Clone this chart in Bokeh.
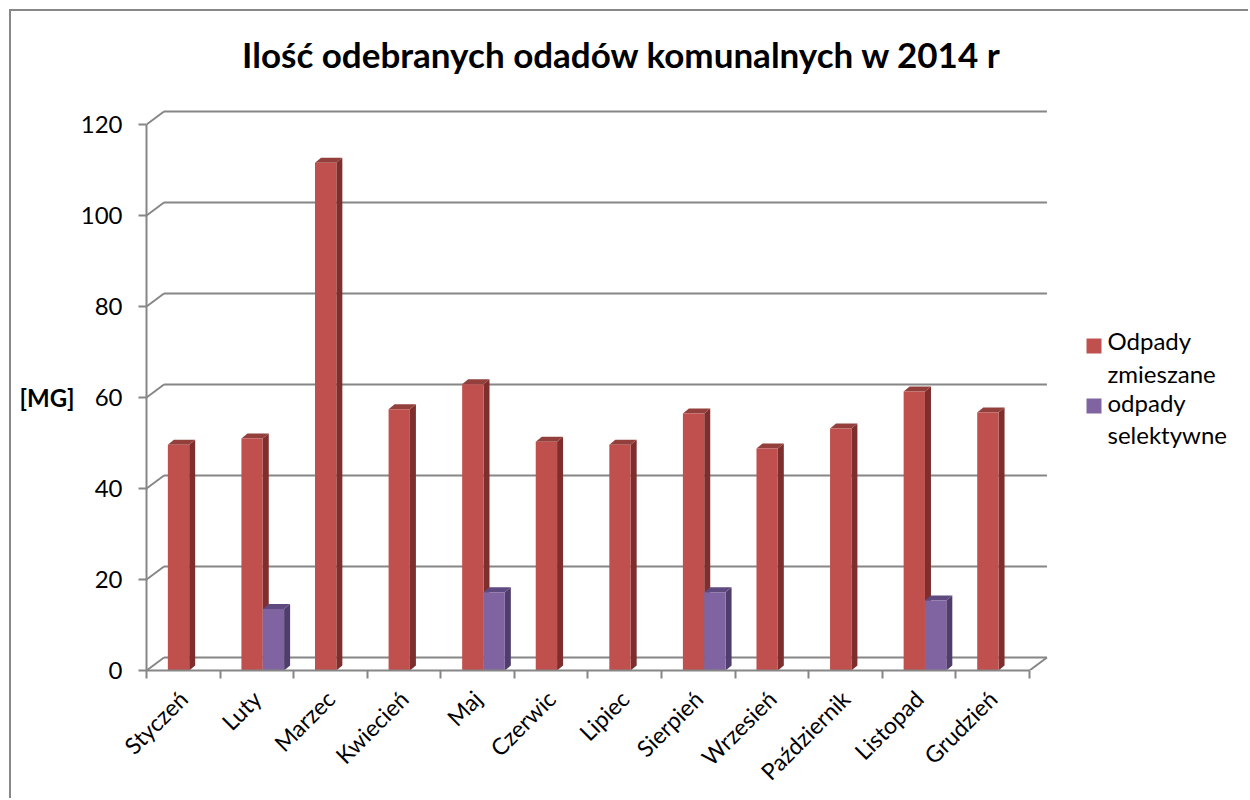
import math
from bokeh.plotting import figure
from bokeh.models import Range1d, FixedTicker, Label, ColumnDataSource, LinearAxis
from bokeh.core.properties import value
from bokeh.embed import file_html
from bokeh.resources import INLINE

# ---------------- data ----------------
months = ["Styczeń", "Luty", "Marzec", "Kwiecień", "Maj", "Czerwic", "Lipiec",
          "Sierpień", "Wrzesień", "Październik", "Listopad", "Grudzień"]
mixed = [49.6, 51.0, 111.6, 57.4, 62.9, 50.3, 49.6, 56.5, 48.8, 53.2, 61.3, 56.7]
selective = [0, 13.5, 0, 0, 17.2, 0, 0, 17.2, 0, 0, 15.4, 0]
series_names = ["Odpady zmieszane", "odpady selektywne"]
y_ticks = [0, 20, 40, 60, 80, 100, 120]
title_text = "Ilość odebranych odadów komunalnych w 2014 r"
y_label = "[MG]"

# ---------------- layout constants ----------------
W, H = 1239, 789           # canvas (page offset 11px by border)
FRAME_L = 135              # canvas px of front y axis
FRAME_B = 659              # canvas px of floor front edge
CAT_PX = 73.58             # px per category
VAL_PX = 4.55              # px per unit
X0 = -0.5
X_END = X0 + (W - FRAME_L) / CAT_PX
Y_END = FRAME_B / VAL_PX

def cx(px):  # canvas px -> data x
    return X0 + (px - FRAME_L) / CAT_PX

def cy(py):  # canvas px -> data y
    return (FRAME_B - py) / VAL_PX

DX = 17.5 / CAT_PX   # wall depth
DY = 13.0 / VAL_PX
BDX = 6.0 / CAT_PX   # bar depth
BDY = 5.0 / VAL_PX

GRID = "#868686"
RED, RED_SIDE, RED_TOP = "#C0504D", "#7E2F2D", "#93403D"
PUR, PUR_SIDE, PUR_TOP = "#8064A2", "#4F3D6B", "#5F4A80"
FONT = "Lato"
FS = "24px"

p = figure(width=W, height=H, output_backend="svg", toolbar_location=None,
           x_range=Range1d(X0, X_END), y_range=Range1d(0, Y_END),
           min_border_left=FRAME_L, min_border_right=0, min_border_top=0,
           min_border_bottom=H - FRAME_B, title=None)
p.styles = {"margin-left": "9px", "margin-top": "9px",
            "border-left": "2px solid #888888", "border-top": "2px solid #888888"}
p.outline_line_color = None
p.background_fill_color = "white"
p.border_fill_color = "white"
p.xgrid.visible = False
p.ygrid.visible = False

# ---------------- walls / gridlines ----------------
n = len(months)
left_end = X0
right_end = X0 + n
gx0, gy0, gx1, gy1 = [], [], [], []
for v in y_ticks:
    gx0.append(left_end); gy0.append(v); gx1.append(left_end + DX); gy1.append(v + DY)
    gx0.append(left_end + DX); gy0.append(v + DY); gx1.append(right_end + DX); gy1.append(v + DY)
gx0.append(right_end); gy0.append(0); gx1.append(right_end + DX); gy1.append(DY)
p.segment(gx0, gy0, gx1, gy1, line_color=GRID, line_width=2)

# ---------------- bars ----------------
def draw_bars(offset_l, offset_r, vals, front, side, top):
    xs_l = [i + offset_l for i in range(n) if vals[i] > 0]
    xs_r = [i + offset_r for i in range(n) if vals[i] > 0]
    vs = [vals[i] for i in range(n) if vals[i] > 0]
    side_xs = [[r, r + BDX, r + BDX, r] for r in xs_r]
    side_ys = [[0, BDY, v + BDY, v] for v in vs]
    top_xs = [[l, r, r + BDX, l + BDX] for l, r in zip(xs_l, xs_r)]
    top_ys = [[v, v, v + BDY, v + BDY] for v in vs]
    p.patches(side_xs, side_ys, fill_color=side, line_color=None)
    p.patches(top_xs, top_ys, fill_color=top, line_color=None)
    p.quad(left=xs_l, right=xs_r, bottom=0, top=vs, fill_color=front, line_color=None)

draw_bars(-0.21, 0.08, mixed, RED, RED_SIDE, RED_TOP)
draw_bars(0.08, 0.37, selective, PUR, PUR_SIDE, PUR_TOP)

# ---------------- axes ----------------
xa = p.xaxis[0]
xa.ticker = FixedTicker(ticks=list(range(n)), minor_ticks=[X0 + k for k in range(n + 1)])
xa.major_label_overrides = {i: m for i, m in enumerate(months)}
xa.bounds = (X0, X0 + n)
xa.axis_line_color = GRID
xa.axis_line_width = 2
xa.major_tick_out = 0
xa.major_tick_in = 0
xa.minor_tick_out = 8
xa.minor_tick_in = 0
xa.minor_tick_line_color = GRID
xa.minor_tick_line_width = 2
xa.major_label_orientation = math.pi / 4
xa.major_label_text_font = FONT
xa.major_label_text_font_size = "23px"
xa.major_label_text_color = "black"
xa.major_label_standoff = 16

ya = p.yaxis[0]
ya.ticker = FixedTicker(ticks=y_ticks, minor_ticks=[])
ya.bounds = (0, 120)
ya.axis_line_color = GRID
ya.axis_line_width = 2
ya.major_tick_out = 8
ya.major_tick_in = 0
ya.major_tick_line_color = GRID
ya.major_tick_line_width = 2
ya.major_label_text_font = FONT
ya.major_label_text_font_size = FS
ya.major_label_text_color = "black"
ya.major_label_standoff = 16

# outer axis carrying the horizontal "[MG]" title at the middle of the value span
ya2 = LinearAxis(ticker=FixedTicker(ticks=[60], minor_ticks=[]),
                 major_label_overrides={60: y_label})
ya2.axis_line_color = None
ya2.major_tick_line_color = None
ya2.minor_tick_line_color = None
ya2.major_tick_out = 0
ya2.major_tick_in = 0
ya2.major_label_standoff = 3
ya2.major_label_text_font = FONT
ya2.major_label_text_font_size = FS
ya2.major_label_text_font_style = "bold"
ya2.major_label_text_color = "black"
p.add_layout(ya2, "left")

# ---------------- title ----------------
p.add_layout(Label(x=cx(610.5), y=cy(42), text=title_text, text_align="center",
                   text_baseline="alphabetic", text_font=FONT, text_font_size="35px",
                   text_font_style="bold", text_color="black"))

# ---------------- legend ----------------
leg_src = ColumnDataSource(dict(
    sx=[cx(1082.5), cx(1082.5)], sy=[cy(334.5), cy(394.5)],
    tx=[cx(1096), cx(1096)], ty=[cy(345.5), cy(407)],
    label=[s.replace(" ", "\n") for s in series_names],
    color=[RED, PUR]))
p.scatter(x="sx", y="sy", source=leg_src, marker="square", size=15,
          fill_color="color", line_color=None)
p.text(x="tx", y="ty", text="label", source=leg_src, text_font=value(FONT),
       text_font_size=FS, text_align="left", text_baseline="middle",
       text_line_height=1.13, text_color="black")

open("out.html", "w").write(file_html(p, INLINE))
